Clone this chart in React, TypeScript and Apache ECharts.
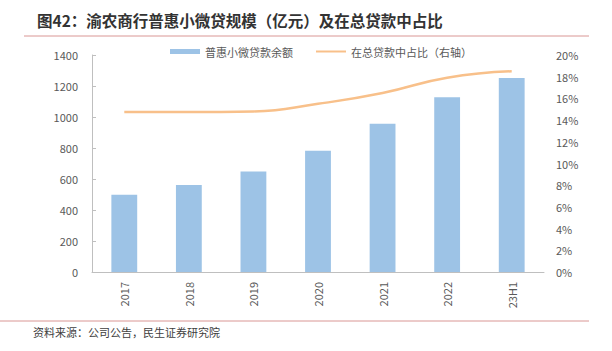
import React, { useEffect, useRef } from "react";
import * as echarts from "echarts";

const categories = ["2017", "2018", "2019", "2020", "2021", "2022", "23H1"];
const loanBalance = [498, 562, 648, 782, 957, 1128, 1251];
const shareOfTotal = [14.75, 14.75, 14.8, 15.5, 16.5, 17.9, 18.5];
const leftTicks = [0, 200, 400, 600, 800, 1000, 1200, 1400];
const rightTicks = [0, 2, 4, 6, 8, 10, 12, 14, 16, 18, 20];

const titleText = "图42：渝农商行普惠小微贷规模（亿元）及在总贷款中占比";
const sourceText = "资料来源：公司公告，民生证券研究院";
const barName = "普惠小微贷款余额";
const lineName = "在总贷款中占比（右轴）";

const FONT = "'Noto Sans CJK SC', 'Noto Sans', sans-serif";

export default function App() {
  const ref = useRef<HTMLDivElement>(null);
  useEffect(() => {
    if (!ref.current) return;
    const chart = echarts.init(ref.current, undefined, { renderer: "svg" });
    chart.setOption({
      animation: false,
      backgroundColor: "#ffffff",
      textStyle: { fontFamily: FONT },
      title: {
        text: titleText,
        left: 32,
        top: 7,
        textStyle: { fontSize: 15.5, fontWeight: "bold", color: "#333333", fontFamily: FONT },
      },
      graphic: [
        { type: "line", shape: { x1: 24, y1: 36, x2: 589, y2: 36 }, style: { stroke: "#D99694", lineWidth: 1 } },
        { type: "line", shape: { x1: 0, y1: 321, x2: 589, y2: 321 }, style: { stroke: "#D99694", lineWidth: 1 } },
        {
          type: "text",
          left: 33,
          top: 326,
          style: { text: sourceText, fontSize: 11, fill: "#404040", fontFamily: FONT },
        },
      ],
      legend: {
        top: 41,
        left: 165,
        itemGap: 22,
        itemWidth: 30,
        itemHeight: 5,
        textStyle: { fontSize: 11, color: "#595959", fontFamily: FONT },
        data: [
          { name: barName, icon: "rect" },
          { name: lineName, itemStyle: { opacity: 0 } },
        ],
      },
      grid: { left: 92, right: 68, top: 55, bottom: 79, containLabel: false },
      xAxis: {
        type: "category",
        data: categories,
        boundaryGap: true,
        axisLine: { lineStyle: { color: "#BFBFBF" } },
        axisTick: { alignWithLabel: true, lineStyle: { color: "#BFBFBF" }, length: 4 },
        axisLabel: { rotate: 90, fontSize: 11, color: "#595959", margin: 10, fontFamily: FONT },
      },
      yAxis: [
        {
          type: "value",
          min: leftTicks[0],
          max: leftTicks[leftTicks.length - 1],
          interval: 200,
          axisLine: { show: true, lineStyle: { color: "#BFBFBF" } },
          axisTick: { show: true, inside: true, length: 4, lineStyle: { color: "#BFBFBF" } },
          splitLine: { show: false },
          axisLabel: {
            fontSize: 11,
            color: "#595959",
            margin: 14,
            fontFamily: FONT,
            formatter: (v: number) => String(v),
          },
        },
        {
          type: "value",
          min: rightTicks[0],
          max: rightTicks[rightTicks.length - 1],
          interval: 2,
          position: "right",
          axisLine: { show: false },
          axisTick: { show: false },
          splitLine: { show: false },
          axisLabel: { fontSize: 11, color: "#595959", margin: 12, formatter: "{value}%", fontFamily: FONT },
        },
      ],
      series: [
        {
          name: barName,
          type: "bar",
          data: loanBalance,
          barWidth: "40%",
          itemStyle: { color: "#9DC3E6" },
        },
        {
          name: lineName,
          type: "line",
          yAxisIndex: 1,
          data: shareOfTotal,
          smooth: true,
          symbol: "none",
          lineStyle: { color: "#F8C08A", width: 2.5 },
          itemStyle: { color: "#F8C08A" },
        },
      ],
    });
    return () => chart.dispose();
  }, []);
  return (
    <div
      ref={ref}
      style={{ position: "fixed", left: 0, top: 0, width: 612, height: 351, background: "#fff" }}
    />
  );
}
